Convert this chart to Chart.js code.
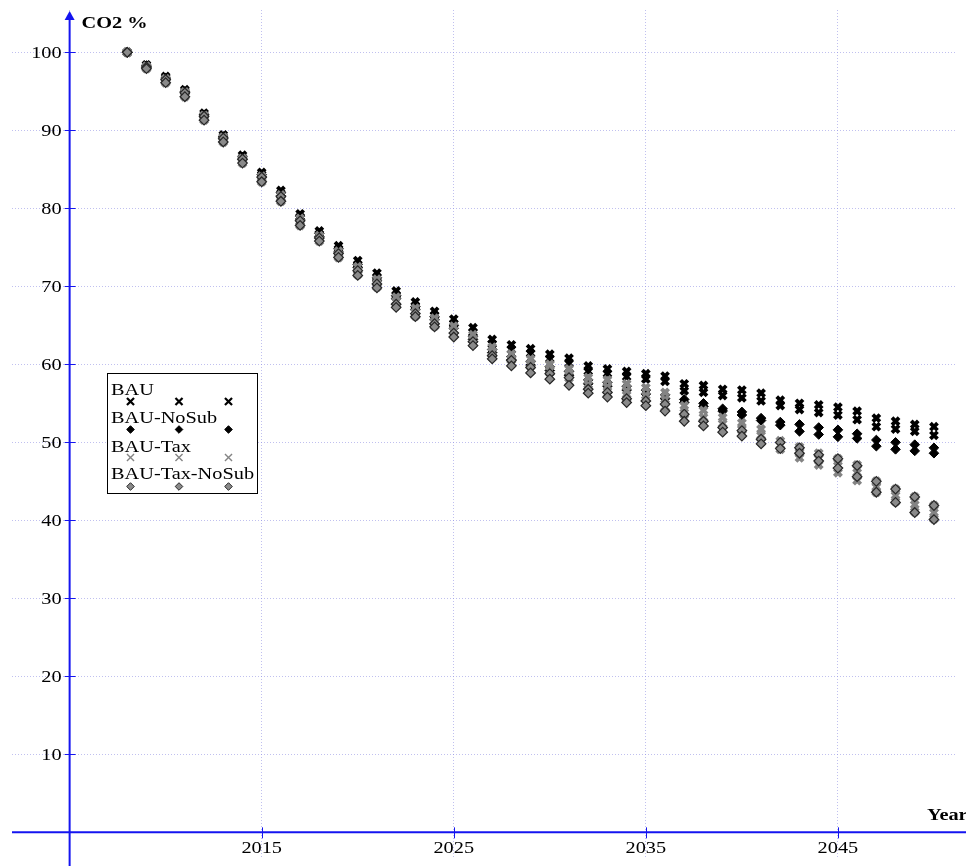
<!DOCTYPE html>
<html>
<head>
<meta charset="utf-8">
<script src="https://cdn.jsdelivr.net/npm/chart.js@4.4.1/dist/chart.umd.min.js"></script>
<style>
  html, body { margin: 0; padding: 0; background: #ffffff; overflow: hidden; }
  canvas { display: block; }
</style>
</head>
<body>
<canvas id="chart" width="966" height="866"></canvas>
<script>
// Simulated CO2 emissions, % of the 2008 level, four policy scenarios.
// Each scenario is plotted from several model runs (upper / lower bound runs).
const years = [2008, 2009, 2010, 2011, 2012, 2013, 2014, 2015, 2016, 2017, 2018,
  2019, 2020, 2021, 2022, 2023, 2024, 2025, 2026, 2027, 2028, 2029, 2030, 2031,
  2032, 2033, 2034, 2035, 2036, 2037, 2038, 2039, 2040, 2041, 2042, 2043, 2044,
  2045, 2046, 2047, 2048, 2049, 2050];

const bauHigh = [100.0, 98.4, 96.9, 95.2, 92.2, 89.4, 86.8, 84.6, 82.3, 79.3, 77.1,
  75.2, 73.3, 71.7, 69.4, 68.0, 66.8, 65.8, 64.7, 63.2, 62.5, 62.0, 61.3, 60.8,
  59.8, 59.4, 59.1, 58.8, 58.5, 57.5, 57.3, 56.8, 56.7, 56.3, 55.4, 55.0, 54.8,
  54.5, 54.0, 53.1, 52.7, 52.3, 52.0];
const bauLow = [100.0, 98.2, 96.7, 95.0, 91.9, 89.1, 86.5, 84.3, 81.9, 78.9, 76.7,
  74.8, 72.8, 71.2, 68.9, 67.5, 66.3, 65.2, 64.1, 62.6, 61.9, 61.4, 60.7, 60.1,
  59.1, 58.8, 58.4, 58.1, 57.8, 56.6, 56.4, 56.0, 55.7, 55.3, 54.7, 54.2, 53.8,
  53.5, 52.9, 52.0, 51.7, 51.4, 50.9];

const noSubHigh = [100.0, 98.3, 96.7, 95.0, 92.0, 89.2, 86.6, 84.3, 82.0, 79.0, 76.8,
  74.8, 72.8, 71.1, 68.8, 67.4, 66.1, 65.0, 63.6, 61.9, 61.0, 60.4, 59.7, 59.1,
  58.0, 57.7, 57.2, 56.7, 56.1, 55.5, 55.0, 54.3, 53.9, 53.1, 52.6, 52.3, 51.9,
  51.6, 51.1, 50.3, 50.0, 49.7, 49.3];
const noSubLow = [100.0, 98.1, 96.5, 94.8, 91.7, 88.9, 86.3, 84.0, 81.6, 78.6, 76.4,
  74.4, 72.4, 70.7, 68.4, 67.0, 65.7, 64.6, 63.2, 61.5, 60.6, 59.9, 59.2, 58.6,
  57.5, 57.2, 56.7, 56.2, 55.6, 55.1, 54.6, 54.0, 53.5, 52.8, 52.2, 51.4, 51.0,
  50.7, 50.5, 49.5, 49.1, 48.9, 48.6];

const taxHigh = [100.0, 98.2, 96.6, 94.9, 91.9, 89.1, 86.4, 84.1, 81.7, 78.7, 76.5,
  74.5, 72.5, 70.9, 68.6, 67.2, 65.9, 64.9, 63.8, 62.2, 61.3, 60.7, 60.0, 59.4,
  58.3, 58.0, 57.5, 57.0, 56.4, 54.7, 54.1, 53.2, 52.5, 51.7, 50.2, 49.4, 48.6,
  47.9, 47.1, 45.0, 44.0, 43.0, 41.9];
const taxMid = [100.0, 98.0, 96.3, 94.6, 91.6, 88.8, 86.1, 83.8, 81.3, 78.3, 76.1,
  74.1, 72.0, 70.4, 68.1, 66.7, 65.4, 64.3, 63.2, 61.6, 60.6, 60.0, 59.2, 58.6,
  57.4, 57.1, 56.6, 56.0, 55.5, 53.8, 53.2, 52.4, 51.7, 50.9, 49.6, 48.7, 47.9,
  47.0, 46.1, 44.3, 43.2, 42.0, 41.0];
const taxLow = [100.0, 97.9, 96.1, 94.3, 91.3, 88.5, 85.8, 83.4, 80.9, 77.8, 75.8,
  73.7, 71.5, 69.9, 67.5, 66.2, 64.9, 63.7, 62.6, 60.9, 60.0, 59.2, 58.4, 57.7,
  56.6, 56.2, 55.6, 55.0, 54.5, 53.0, 52.4, 51.6, 51.0, 50.0, 49.1, 48.0, 47.1,
  46.1, 45.1, 43.6, 42.4, 41.1, 40.2];

const taxNoSubHigh = [100.0, 98.1, 96.5, 94.8, 91.8, 89.0, 86.3, 84.0, 81.5, 78.4, 76.2,
  74.2, 72.0, 70.3, 67.7, 66.5, 65.2, 64.0, 62.9, 61.1, 60.5, 59.6, 58.8, 58.3,
  56.8, 56.4, 55.6, 55.3, 54.9, 53.6, 52.7, 51.9, 51.5, 50.4, 50.0, 49.3, 48.4,
  47.9, 47.0, 45.0, 44.0, 43.0, 41.9];
const taxNoSubLow = [100.0, 97.9, 96.1, 94.3, 91.3, 88.5, 85.8, 83.4, 80.9, 77.8, 75.8,
  73.7, 71.4, 69.8, 67.3, 66.1, 64.8, 63.5, 62.4, 60.7, 59.8, 58.9, 58.1, 57.3,
  56.3, 55.8, 55.1, 54.7, 54.0, 52.7, 52.1, 51.3, 50.8, 49.8, 49.2, 48.6, 47.6,
  46.7, 45.6, 43.6, 42.3, 41.0, 40.1];

const seriesNames = ['BAU', 'BAU-NoSub', 'BAU-Tax', 'BAU-Tax-NoSub'];
const xTickValues = [2015, 2025, 2035, 2045];
const yTickValues = [10, 20, 30, 40, 50, 60, 70, 80, 90, 100];
const xTitle = 'Year';
const yTitle = 'CO2 %';

// ---- styling ----
const AXIS_BLUE = '#1414f0';
const GRID_COLOR = 'rgba(140, 140, 225, 0.55)';
const FONT = '"Liberation Serif", "Times New Roman", serif';
const TEXT_STRETCH = 1.27;   // glyphs are drawn horizontally widened

const seriesStyles = [
  { runs: [bauHigh, bauLow], pointStyle: 'crossRot', radius: 5, legendRadius: 5,
    fill: '#000000', stroke: '#000000', width: 3.8, legendWidth: 2.2, order: 4 },
  { runs: [noSubHigh, noSubLow], pointStyle: 'rectRot', radius: 4.8, legendRadius: 3.8,
    fill: '#000000', stroke: '#000000', width: 1, legendWidth: 1, order: 3 },
  { runs: [taxHigh, taxMid, taxLow], pointStyle: 'crossRot', radius: 5, legendRadius: 5,
    fill: '#848484', stroke: '#848484', width: 4, legendWidth: 1.4, order: 2 },
  { runs: [taxNoSubHigh, taxNoSubLow], pointStyle: 'rectRot', radius: 4.8, legendRadius: 3.8,
    fill: '#8a8a8a', stroke: '#262626', width: 1.2, legendWidth: 1, order: 1 }
];

function runPoints(values) {
  return values.map((v, i) => ({ x: years[i], y: v }));
}

const datasets = seriesNames.map((name, k) => {
  const s = seriesStyles[k];
  return {
    label: name,
    data: s.runs.flatMap(runPoints),
    pointStyle: s.pointStyle,
    pointRadius: s.radius,
    pointHoverRadius: s.radius,
    pointBackgroundColor: s.fill,
    pointBorderColor: s.stroke,
    pointBorderWidth: s.width,
    showLine: false,
    order: s.order
  };
});

function drawText(ctx, text, x, y, align, font) {
  ctx.save();
  ctx.font = font;
  ctx.textAlign = 'left';
  ctx.textBaseline = 'alphabetic';
  const w = ctx.measureText(text).width * TEXT_STRETCH;
  const left = align === 'right' ? x - w : (align === 'center' ? x - w / 2 : x);
  ctx.translate(left, y);
  ctx.scale(TEXT_STRETCH, 1);
  ctx.fillStyle = '#000000';
  ctx.fillText(text, 0, 0);
  ctx.restore();
}

// Axes drawn through the origin (year 2005, 0 %), with arrow, crossing ticks and titles.
const crossAxes = {
  id: 'crossAxes',
  afterDatasetsDraw(chart) {
    const { ctx, chartArea, scales: { x, y } } = chart;
    const ox = x.getPixelForValue(2005);
    const oy = y.getPixelForValue(0);
    ctx.save();
    ctx.strokeStyle = AXIS_BLUE;
    ctx.fillStyle = AXIS_BLUE;
    ctx.lineWidth = 2;
    // horizontal axis
    ctx.beginPath();
    ctx.moveTo(chartArea.left, oy);
    ctx.lineTo(chart.width, oy);
    ctx.stroke();
    // vertical axis with arrow head
    ctx.beginPath();
    ctx.moveTo(ox, chart.height);
    ctx.lineTo(ox, 18);
    ctx.stroke();
    ctx.beginPath();
    ctx.moveTo(ox, 11);
    ctx.lineTo(ox - 5, 20);
    ctx.lineTo(ox + 5, 20);
    ctx.closePath();
    ctx.fill();
    // tick marks
    ctx.lineWidth = 1;
    yTickValues.forEach(v => {
      const py = Math.round(y.getPixelForValue(v)) + 0.5;
      ctx.beginPath();
      ctx.moveTo(ox - 5, py);
      ctx.lineTo(ox + 6, py);
      ctx.stroke();
    });
    xTickValues.forEach(v => {
      const px = Math.round(x.getPixelForValue(v)) + 0.5;
      ctx.beginPath();
      ctx.moveTo(px, oy - 5);
      ctx.lineTo(px, oy + 6);
      ctx.stroke();
    });
    ctx.restore();

    const tickFont = '16px ' + FONT;
    yTickValues.forEach(v => {
      drawText(ctx, String(v), ox - 8, y.getPixelForValue(v) + 5.5, 'right', tickFont);
    });
    xTickValues.forEach(v => {
      drawText(ctx, String(v), x.getPixelForValue(v), oy + 21, 'center', tickFont);
    });
    const titleFont = 'bold 16px ' + FONT;
    drawText(ctx, yTitle, ox + 12, 28, 'left', titleFont);
    drawText(ctx, xTitle, 927, oy - 12, 'left', titleFont);
  }
};

// Boxed legend: name on one line, three sample markers on the line below.
const boxedLegend = {
  id: 'boxedLegend',
  afterDraw(chart) {
    const { ctx } = chart;
    const box = { left: 107.5, top: 373.5, right: 257.5, bottom: 493.5 };
    ctx.save();
    ctx.fillStyle = '#ffffff';
    ctx.fillRect(box.left, box.top, box.right - box.left, box.bottom - box.top);
    ctx.strokeStyle = '#000000';
    ctx.lineWidth = 1;
    ctx.strokeRect(box.left, box.top, box.right - box.left, box.bottom - box.top);
    ctx.restore();

    const textBaselines = [395, 423, 451.5, 478.5];
    const markerRows = [401.5, 429.5, 457.5, 486.5];
    const markerCols = [130.5, 179, 228.5];
    const font = '16px ' + FONT;
    chart.data.datasets.forEach((ds, k) => {
      const s = seriesStyles[k];
      drawText(ctx, ds.label, 111, textBaselines[k], 'left', font);
      markerCols.forEach(mx => {
        ctx.save();
        ctx.fillStyle = s.fill;
        ctx.strokeStyle = s.stroke;
        ctx.lineWidth = s.legendWidth;
        Chart.helpers.drawPoint(ctx, { pointStyle: s.pointStyle, radius: s.legendRadius, rotation: 0, borderWidth: s.legendWidth }, mx, markerRows[k]);
        ctx.restore();
      });
    });
  }
};

new Chart(document.getElementById('chart'), {
  type: 'scatter',
  data: { datasets },
  options: {
    responsive: false,
    animation: false,
    devicePixelRatio: 1,
    layout: { padding: { left: 12, top: 10, right: 0, bottom: 0 } },
    plugins: { legend: { display: false }, tooltip: { enabled: false } },
    events: [],
    scales: {
      x: {
        type: 'linear',
        position: { y: 0 },
        min: 2002.0,
        max: 2051.2,
        afterBuildTicks: axis => { axis.ticks = [2005].concat(xTickValues).map(v => ({ value: v })); },
        ticks: { display: false },
        grid: { color: GRID_COLOR, lineWidth: 1, drawTicks: false },
        border: { display: false, dash: [1, 2] }
      },
      y: {
        type: 'linear',
        position: { x: 2005 },
        min: -3.16,
        max: 105.42,
        afterBuildTicks: axis => { axis.ticks = [0].concat(yTickValues).map(v => ({ value: v })); },
        ticks: { display: false },
        grid: { color: GRID_COLOR, lineWidth: 1, drawTicks: false },
        border: { display: false, dash: [1, 2] }
      }
    }
  },
  plugins: [crossAxes, boxedLegend]
});
</script>
</body>
</html>
